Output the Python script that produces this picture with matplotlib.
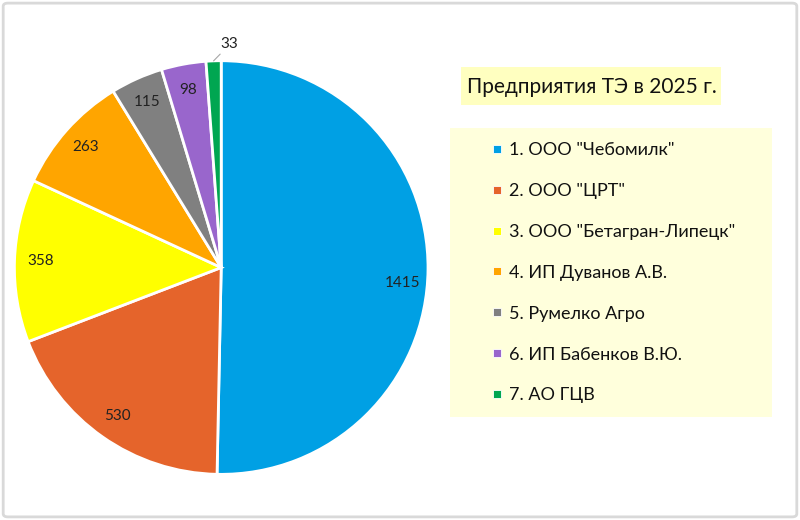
import matplotlib.pyplot as plt
from matplotlib.patches import Rectangle, FancyBboxPatch
from matplotlib.lines import Line2D
import numpy as np

plt.rcParams['font.family'] = ['Lato', 'DejaVu Sans']

names = ['1. ООО "Чебомилк"', '2. ООО "ЦРТ"', '3. ООО "Бетагран-Липецк"',
         '4. ИП Дуванов А.В.', '5. Румелко Агро', '6. ИП Бабенков В.Ю.', '7. АО ГЦВ']
values = [1415, 530, 358, 263, 115, 98, 33]
colors = ['#00A0E4', '#E5642B', '#FFFF00', '#FFA500', '#808080', '#9966CC', '#00A651']
title = 'Предприятия ТЭ в 2025 г.'


def main():
    fig = plt.figure(figsize=(8, 5.2), dpi=100)

    # light grey frame round the whole chart
    fig.patches.append(FancyBboxPatch((0.004, 0.006), 0.992, 0.988,
                                      boxstyle='round,pad=0,rounding_size=0.006',
                                      transform=fig.transFigure, fill=False,
                                      edgecolor='#D9D9D9', linewidth=2))

    ax = fig.add_axes([0.018, 0.087, 0.517, 0.797])
    wedges, _ = ax.pie(values, colors=colors, startangle=90, counterclock=False,
                       radius=1, wedgeprops=dict(edgecolor='white', linewidth=2))
    ax.set_xlim(-1, 1)
    ax.set_ylim(-1, 1)
    ax.set_aspect('equal')

    # value labels near the outer edge of each slice
    total = float(sum(values))
    start = 0.0
    for i, v in enumerate(values):
        mid = (start + v / 2) / total
        start += v
        ang = np.deg2rad(90 - 360 * mid)
        x, y = np.cos(ang), np.sin(ang)
        if i == len(values) - 1:
            ax.annotate(str(v), xy=(x, y), xytext=(x + 0.035, 1.08 * y),
                        ha='left', va='center', fontsize=11, color='#222222',
                        arrowprops=dict(arrowstyle='-', color='#A6A6A6', lw=0.8,
                                        shrinkA=0, shrinkB=0))
        else:
            dy = -0.065 if i == 0 else 0.0
            ax.text(0.875 * x, 0.875 * y + dy, str(v), ha='center', va='center',
                    fontsize=11, color='#222222')

    # title box
    fig.patches.append(Rectangle((461 / 800, 1 - 105 / 520), 260 / 800, 38 / 520,
                                 transform=fig.transFigure, facecolor='#FFFFC0',
                                 edgecolor='none'))
    fig.text(592 / 800, 1 - 87 / 520, title, ha='center', va='center',
             fontsize=15, color='#111111')

    # legend box
    fig.patches.append(Rectangle((450 / 800, 1 - 417 / 520), 322 / 800, 289 / 520,
                                 transform=fig.transFigure, facecolor='#FFFFDC',
                                 edgecolor='none'))
    handles = [Line2D([], [], marker='s', linestyle='', color=c, markersize=6,
                      markeredgecolor='white', markeredgewidth=0.6) for c in colors]
    fig.legend(handles, names, loc='upper left', bbox_to_anchor=(492 / 800, 1 - 142 / 520),
               frameon=False, fontsize=13, labelspacing=1.38, handlelength=0.6,
               handletextpad=0.35, borderpad=0, borderaxespad=0, labelcolor='#111111')

    fig.savefig('out.png', dpi=100)


if __name__ == '__main__':
    main()
